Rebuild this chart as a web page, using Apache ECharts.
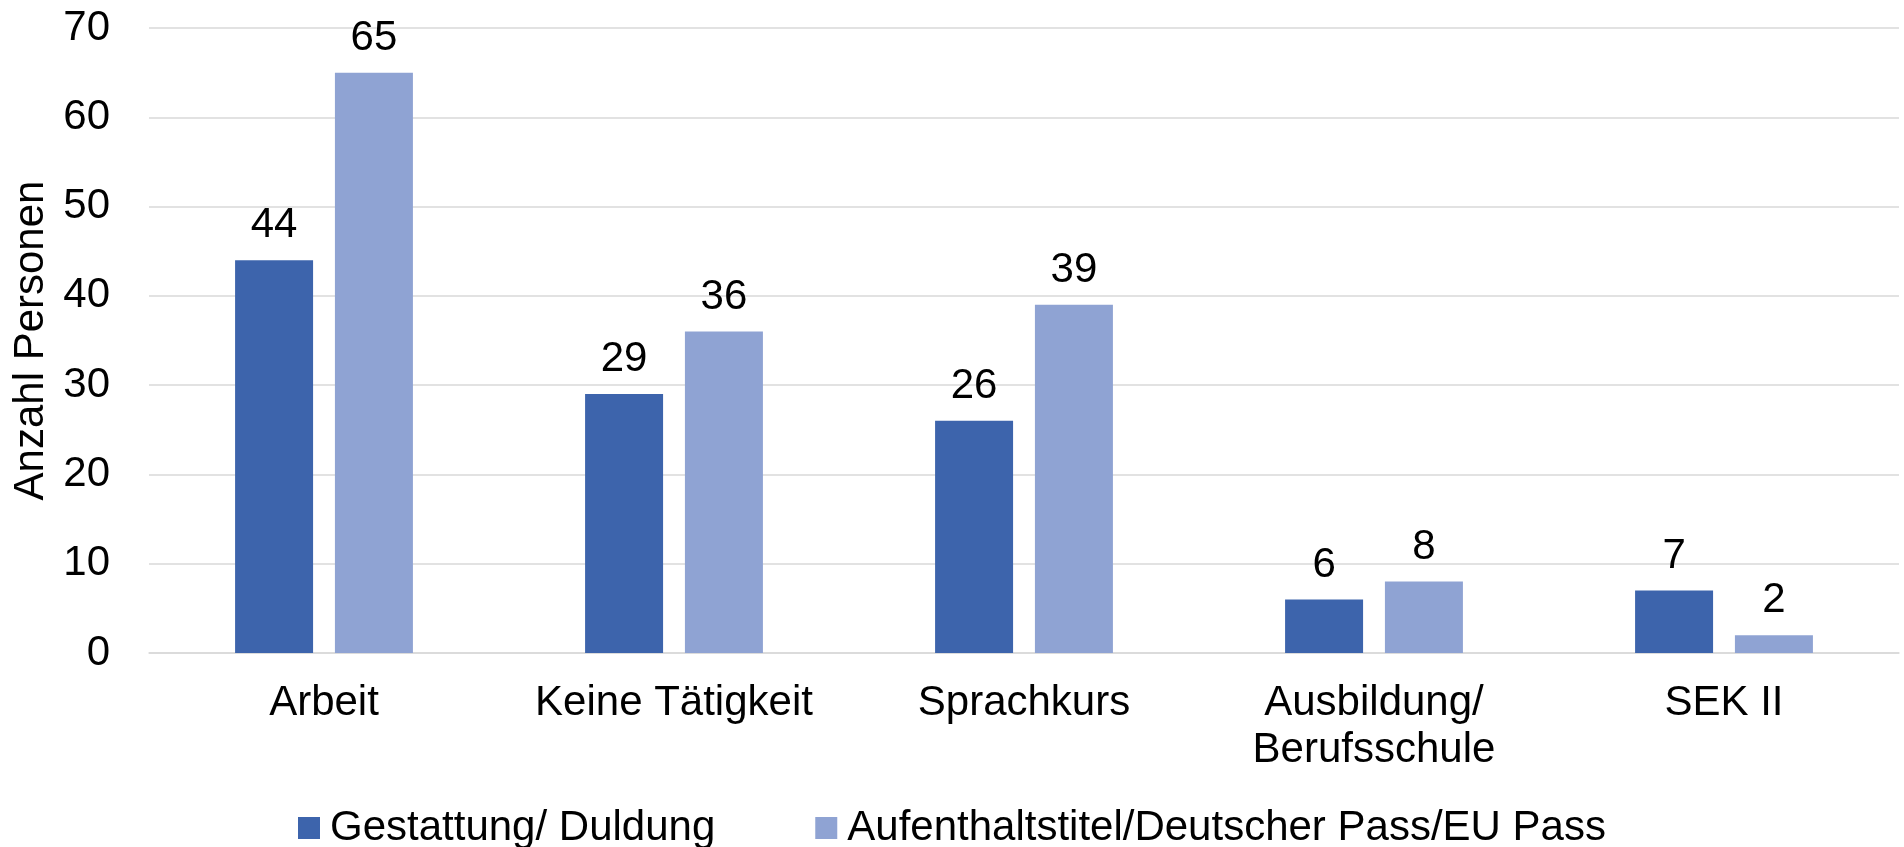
<!DOCTYPE html>
<html>
<head>
<meta charset="utf-8">
<script src="https://cdn.jsdelivr.net/npm/echarts@6/dist/echarts.min.js"></script>
<style>
  html, body { margin: 0; padding: 0; background: #fff; }
  #chart { width: 1904px; height: 847px; }
</style>
</head>
<body>
<div id="chart"></div>
<script>
const categories = ['Arbeit', 'Keine Tätigkeit', 'Sprachkurs', 'Ausbildung/\nBerufsschule', 'SEK II'];
const duldung = [44, 29, 26, 6, 7];
const aufenthalt = [65, 36, 39, 8, 2];
const yTicks = [0, 10, 20, 30, 40, 50, 60, 70];

const font = '"Liberation Sans", Arial, sans-serif';

const chart = echarts.init(document.getElementById('chart'), null, { renderer: 'canvas' });

const labelStyle = {
  show: true,
  position: 'top',
  distance: 11,
  color: '#000',
  fontSize: 42,
  lineHeight: 47,
  fontFamily: font
};

const option = {
  animation: false,
  backgroundColor: '#fff',
  grid: {
    left: 149,
    right: 5,
    top: 28,
    bottom: 194,
    outerBoundsMode: 'none'
  },
  legend: {
    data: ['Gestattung/ Duldung', 'Aufenthaltstitel/Deutscher Pass/EU Pass'],
    left: 293,
    top: 802,
    itemWidth: 22,
    itemHeight: 22,
    itemGap: 100,
    icon: 'rect',
    textStyle: {
      color: '#000',
      fontSize: 42,
      fontFamily: font,
      padding: [0, 0, 0, 5]
    }
  },
  xAxis: {
    type: 'category',
    data: categories,
    axisTick: { show: false },
    axisLine: { lineStyle: { color: '#d9d9d9', width: 1.5 } },
    axisLabel: {
      color: '#000',
      fontSize: 42,
      lineHeight: 47,
      fontFamily: font,
      margin: 27,
      interval: 0
    }
  },
  yAxis: {
    type: 'value',
    min: yTicks[0],
    max: yTicks[yTicks.length - 1],
    interval: 10,
    name: 'Anzahl Personen',
    nameLocation: 'middle',
    nameRotate: 90,
    nameGap: 96,
    nameTextStyle: {
      color: '#000',
      fontSize: 42,
      fontFamily: font
    },
    axisLine: { show: false },
    axisTick: { show: false },
    axisLabel: {
      color: '#000',
      fontSize: 42,
      fontFamily: font,
      margin: 39
    },
    splitLine: { lineStyle: { color: '#d9d9d9', width: 1.5 } }
  },
  series: [
    {
      name: 'Gestattung/ Duldung',
      type: 'bar',
      data: duldung,
      barWidth: 78,
      barGap: '28%',
      itemStyle: { color: '#3d64ac' },
      label: labelStyle
    },
    {
      name: 'Aufenthaltstitel/Deutscher Pass/EU Pass',
      type: 'bar',
      data: aufenthalt,
      barWidth: 78,
      itemStyle: { color: '#8fa3d3' },
      label: labelStyle
    }
  ]
};

chart.setOption(option);
</script>
</body>
</html>
